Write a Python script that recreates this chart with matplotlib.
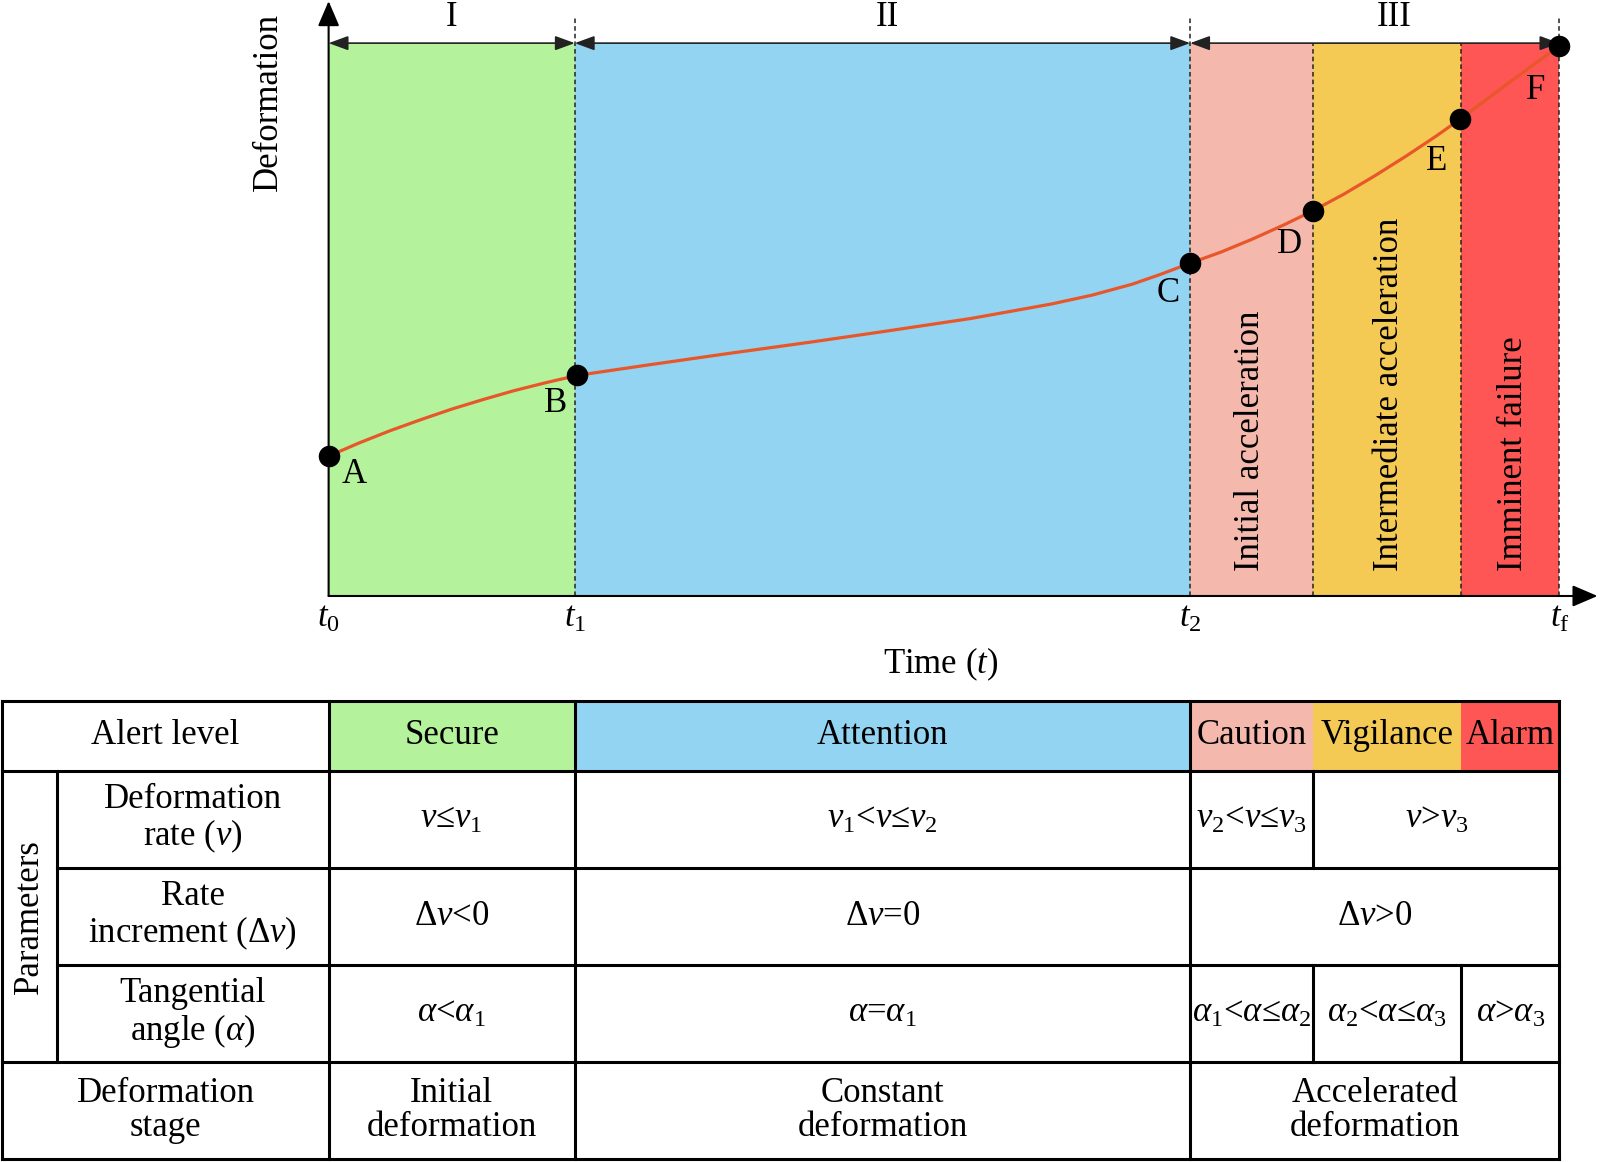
import matplotlib.pyplot as plt
from matplotlib.patches import Rectangle

plt.rcParams["font.family"] = "Liberation Serif"
plt.rcParams["mathtext.fontset"] = "custom"
plt.rcParams["mathtext.rm"] = "Liberation Serif"
plt.rcParams["mathtext.it"] = "Liberation Serif:italic"

# --- data ---
# boundaries on the time axis: t0, t1, t2, (D), (E), tf
stage_edges = [0.0, 2.0, 7.0, 8.0, 9.2, 10.0]
zone_colors = ["#b4f39c", "#93d4f3", "#f5b8ad", "#f4ca55", "#fe5555"]
alert_levels = ["Secure", "Attention", "Caution", "Vigilance", "Alarm"]

curve_t = [0.0, 0.25, 0.5, 0.75, 1.0, 1.25, 1.5, 1.75, 2.02,
           2.6, 3.26, 3.91, 4.56, 5.22, 5.87, 6.2, 6.53, 6.75, 7.0,
           7.25, 7.5, 7.75, 8.0, 8.25, 8.5, 8.75, 9.0, 9.19, 9.6, 10.0]
curve_d = [2.53, 2.77, 2.99, 3.19, 3.38, 3.55, 3.71, 3.85, 3.99,
           4.18, 4.39, 4.59, 4.80, 5.02, 5.28, 5.44, 5.64, 5.81, 6.02,
           6.22, 6.45, 6.70, 6.97, 7.27, 7.60, 7.95, 8.32, 8.62, 9.30, 9.95]

key_t = [0.0, 2.02, 7.0, 8.0, 9.19, 10.0]
key_d = [2.53, 3.99, 6.02, 6.97, 8.62, 9.95]
key_names = ["A", "B", "C", "D", "E", "F"]
key_label_t = [0.21, 1.84, 6.82, 7.81, 9.0, 9.81]
key_label_d = [2.2, 3.49, 5.48, 6.35, 7.85, 9.14]

phase_names = ["I", "II", "III"]
phase_spans = [(0.0, 2.0), (2.0, 7.0), (7.0, 10.0)]
phase_label_t = [1.0, 4.54, 8.66]

tick_t = [0.0, 2.0, 7.0, 10.0]
tick_labels = [r"$t_0$", r"$t_1$", r"$t_2$", r"$t_\mathrm{f}$"]

zone_labels = ["Initial acceleration", "Intermediate acceleration", "Imminent failure"]
zone_label_t = [7.49, 8.62, 9.63]

# table content: (start, end, text) along the time axis
row_names = ["Deformation\nrate ($v$)", "Rate\nincrement (Δ$v$)",
             "Tangential\nangle ($\\alpha$)"]
rate_cells = [(0, 2, "$v$≤$v_1$"), (2, 7, "$v_1$<$v$≤$v_2$"),
              (7, 8, "$v_2$<$v$≤$v_3$"), (8, 10, "$v$>$v_3$")]
increment_cells = [(0, 2, "Δ$v$<0"), (2, 7, "Δ$v$=0"), (7, 10, "Δ$v$>0")]
angle_cells = [(0, 2, r"$\alpha$<$\alpha_1$"), (2, 7, r"$\alpha$=$\alpha_1$"),
               (7, 8, r"$\alpha_1$<$\alpha$≤$\alpha_2$"),
               (8, 9.2, r"$\alpha_2$<$\alpha$≤$\alpha_3$"),
               (9.2, 10, r"$\alpha$>$\alpha_3$")]
stage_cells = [(0, 2, "Initial\ndeformation"), (2, 7, "Constant\ndeformation"),
               (7, 10, "Accelerated\ndeformation")]

FS = 25
XLIM = (-2.67, 10.33)

fig = plt.figure(figsize=(16, 11.62), dpi=100)

# --- top: deformation curve ---
ax = fig.add_axes([0, 1 - 685 / 1162, 1, 685 / 1162])
ax.set_xlim(*XLIM)
ax.set_ylim(-1.61, 10.78)
ax.axis("off")

for i, c in enumerate(zone_colors):
    ax.fill_between([stage_edges[i], stage_edges[i + 1]], 0, 10, color=c, lw=0, zorder=0)

# dashed boundaries (t1, t2, tf reach above the top line)
for t in stage_edges[1:]:
    top = 10.48 if t in tick_t else 10.0
    ax.plot([t, t], [0, top], ls=(0, (3, 2)), color="#222222", lw=1.1, zorder=1)

# axes with arrows
ax.annotate("", xy=(0, 10.76), xytext=(0, 0),
            arrowprops=dict(arrowstyle="-|>,head_length=0.7,head_width=0.3",
                            color="black", lw=1.5, shrinkA=0, shrinkB=0,
                            mutation_scale=22))
ax.annotate("", xy=(10.31, 0), xytext=(0, 0),
            arrowprops=dict(arrowstyle="-|>,head_length=0.7,head_width=0.3",
                            color="black", lw=1.5, shrinkA=0, shrinkB=0,
                            mutation_scale=22))

# phase arrows on the top line
for (a, b), name, lt in zip(phase_spans, phase_names, phase_label_t):
    ax.annotate("", xy=(b, 10), xytext=(a, 10),
                arrowprops=dict(arrowstyle="<|-|>,head_length=0.6,head_width=0.22",
                                color="#222222", lw=1.2, shrinkA=0, shrinkB=0,
                                mutation_scale=20))
    ax.text(lt, 10.46, name, fontsize=FS, ha="center", va="center")

ax.plot(curve_t, curve_d, color="#e8572a", lw=2.3, zorder=3, solid_joinstyle="round")
ax.plot(key_t, key_d, "o", color="black", ms=14.5, zorder=4, clip_on=False)
for name, lt, ld in zip(key_names, key_label_t, key_label_d):
    ax.text(lt, ld, name, fontsize=FS, ha="center", va="center")

for t, lab in zip(tick_t, tick_labels):
    ax.text(t, -0.4, lab, fontsize=FS, ha="center", va="center")

for lab, lt in zip(zone_labels, zone_label_t):
    ax.text(lt, 0.45, lab, fontsize=FS, rotation=90, ha="center", va="bottom")

ax.text(4.97, -1.23, "Time ($t$)", fontsize=FS, ha="center", va="center")
ax.text(-0.49, 8.94, "Deformation", fontsize=FS, rotation=90, ha="center", va="center")

# --- bottom: alert table ---
tb = fig.add_axes([0, 0, 1, 477 / 1162])
tb.set_xlim(*XLIM)
tb.set_ylim(4.753, -0.165)
tb.axis("off")

L0, L1 = -2.65, -2.21           # table left edge, parameter column edge
rows = [0, 0.72, 1.72, 2.72, 3.72, 4.72]
mid = [(rows[i] + rows[i + 1]) / 2 for i in range(5)]

for i, c in enumerate(zone_colors):
    tb.add_patch(Rectangle((stage_edges[i], rows[0]), stage_edges[i + 1] - stage_edges[i],
                           rows[1] - rows[0], color=c, lw=0, zorder=0))
    tb.text((stage_edges[i] + stage_edges[i + 1]) / 2, mid[0], alert_levels[i],
            fontsize=FS, ha="center", va="center")

tb.text((L0 + 0) / 2, mid[0], "Alert level", fontsize=FS, ha="center", va="center")
tb.text((L0 + L1) / 2, (rows[1] + rows[4]) / 2, "Parameters", fontsize=FS,
        rotation=90, ha="center", va="center")
for i, name in enumerate(row_names):
    tb.text((L1 + 0) / 2, mid[i + 1], name, fontsize=FS, ha="center", va="center",
            linespacing=1.05)
tb.text((L0 + 0) / 2, mid[4], "Deformation\nstage", fontsize=FS, ha="center",
        va="center", linespacing=1.05)

for r, cells in enumerate([rate_cells, increment_cells, angle_cells, stage_cells]):
    for a, b, txt in cells:
        tb.text((a + b) / 2, mid[r + 1], txt, fontsize=FS, ha="center", va="center",
                linespacing=1.05)

lw = 2.2
hl = tb.hlines([rows[0], rows[1], rows[4], rows[5]], L0, 10, color="black", lw=lw)
hl2 = tb.hlines([rows[2], rows[3]], L1, 10, color="black", lw=lw)
vl = tb.vlines([L0, 0, 2, 7, 10], rows[0], rows[5], color="black", lw=lw)
vl2 = tb.vlines([L1], rows[1], rows[4], color="black", lw=lw)
vl3 = tb.vlines([8], rows[1], rows[2], color="black", lw=lw)
vl4 = tb.vlines([8, 9.2], rows[3], rows[4], color="black", lw=lw)
for coll in (hl, hl2, vl, vl2, vl3, vl4):
    coll.set_capstyle("projecting")

fig.savefig("out.png", dpi=100)
